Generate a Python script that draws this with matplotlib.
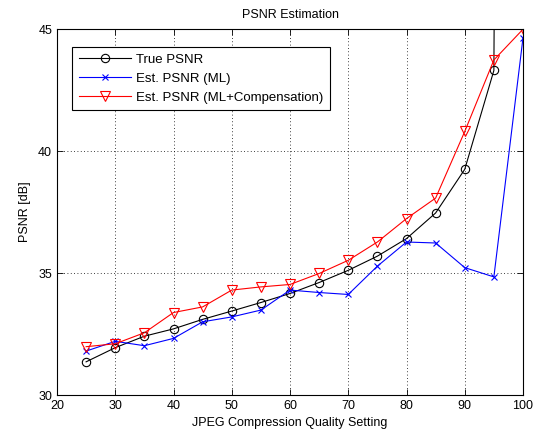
import numpy as np
import matplotlib.pyplot as plt

plt.rcParams['font.family'] = ['Liberation Sans', 'DejaVu Sans']

# JPEG quality settings and PSNR values
quality = [25, 30, 35, 40, 45, 50, 55, 60, 65, 70, 75, 80, 85, 90, 95, 100]
true_psnr = [31.36, 31.94, 32.41, 32.71, 33.10, 33.44, 33.79, 34.16, 34.61,
             35.11, 35.69, 36.41, 37.46, 39.25, 43.30, 250.0]
est_ml = [31.80, 32.20, 32.02, 32.32, 33.00, 33.20, 33.48, 34.30, 34.20,
          34.12, 35.28, 36.27, 36.23, 35.22, 34.84, 44.64]
est_comp = [31.98, 32.10, 32.55, 33.38, 33.61, 34.30, 34.43, 34.53, 34.98,
            35.52, 36.27, 37.23, 38.07, 40.80, 43.73, 44.99]

fig = plt.figure(figsize=(5.36, 4.36), dpi=100)
ax = fig.add_axes([57/536, 1 - 395/436, (523 - 57)/536, (395 - 29)/436])

ax.plot(quality, true_psnr, 'k-', marker='o', mfc='none', ms=6, lw=0.8,
        mew=0.8, label='True PSNR')
ax.plot(quality, est_ml, 'b-', marker='x', ms=4.5, lw=0.8, mew=0.8,
        label='Est. PSNR (ML)')
ax.plot(quality, est_comp, 'r-', marker='v', mfc='none', ms=7, lw=0.8,
        mew=0.8, label='Est. PSNR (ML+Compensation)')

ax.set_xlim(20, 100)
ax.set_ylim(30, 45)
ax.set_xticks(np.arange(20, 101, 10))
ax.set_yticks([30, 35, 40, 45])
ax.grid(True, color='k', linestyle=(0, (1, 3)), linewidth=0.6)
ax.tick_params(direction='in', top=True, right=True, labelsize=9, length=4,
               width=0.6)
for sp in ax.spines.values():
    sp.set_linewidth(0.8)

ax.set_title('PSNR Estimation', fontsize=9, pad=8)
ax.set_xlabel('JPEG Compression Quality Setting', fontsize=9, labelpad=4)
ax.set_ylabel('PSNR [dB]', fontsize=9, labelpad=5)

leg = ax.legend(loc='upper left', bbox_to_anchor=(15/466, 1 - 18/366),
                borderaxespad=0, fontsize=9.5, fancybox=False, framealpha=1,
                edgecolor='k', handlelength=4, handletextpad=0.35,
                labelspacing=0.5, borderpad=0.5)
leg.get_frame().set_linewidth(0.8)

fig.savefig('out.png', dpi=100)
